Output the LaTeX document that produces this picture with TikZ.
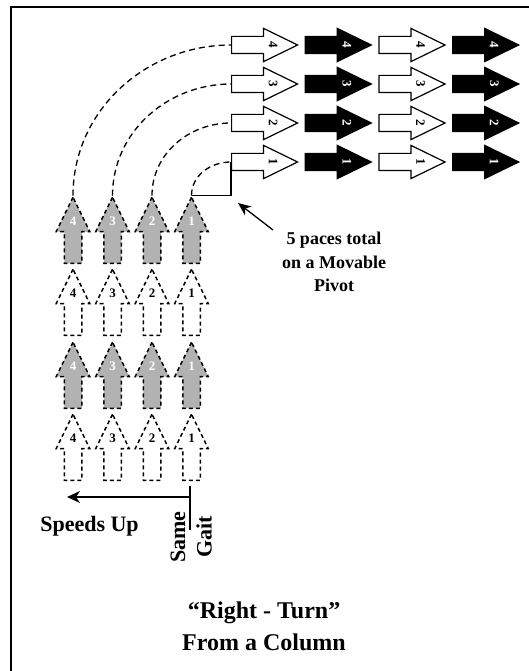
\documentclass[tikz,border=0pt]{standalone}
\usepackage{fontspec}
\setmainfont{Liberation Serif}
\usetikzlibrary{shapes.arrows,arrows.meta,calc}
\begin{document}
\begin{tikzpicture}[x=1pt,y=-1pt,
  arrbase/.style={single arrow, minimum height=66pt, minimum width=32pt,
    single arrow head extend=8pt, single arrow tip angle=52, inner sep=8pt,
    anchor=tail},
  warr/.style={arrbase, draw=black, fill=white, line width=1.2pt},
  barr/.style={arrbase, draw=black, fill=black, line width=1.2pt},
  garr/.style={arrbase, shape border rotate=90, draw=black, fill=black!30,
    line width=1.5pt, dash pattern=on 4pt off 3pt},
  darr/.style={arrbase, shape border rotate=90, draw=black, fill=white,
    line width=1.5pt, dash pattern=on 4pt off 3pt},
  numfont/.style={font=\bfseries\fontsize{13}{13}\selectfont, inner sep=0pt},
  rlabw/.style={numfont, rotate=-90, text=black},
  rlabb/.style={numfont, rotate=-90, text=white},
  ulabw/.style={numfont, text=white},
  ulabd/.style={numfont, text=black},
  arcline/.style={line width=1.3pt, dash pattern=on 6pt off 4pt},
  solidline/.style={line width=1.3pt},
  bigtext/.style={font=\bfseries\fontsize{22}{26}\selectfont, inner sep=0pt},
]
\useasboundingbox (0,0) rectangle (529,671);
\draw[line width=2pt] (11,675) -- (11,7) -- (535,7);

% right-pointing arrows
\foreach \r/\y in {1/162,2/123,3/84,4/45} {
  \node[warr] (w1r\r) at (231,\y) {};
  \node[barr] (b1r\r) at (304.7,\y) {};
  \node[warr] (w2r\r) at (378.4,\y) {};
  \node[barr] (b2r\r) at (452.1,\y) {};
  \node[rlabw] (lw1r\r) at ($(w1r\r.tail)!0.62!(w1r\r.tip)$) {\r};
  \node[rlabb] (lb1r\r) at ($(b1r\r.tail)!0.62!(b1r\r.tip)$) {\r};
  \node[rlabw] (lw2r\r) at ($(w2r\r.tail)!0.62!(w2r\r.tip)$) {\r};
  \node[rlabb] (lb2r\r) at ($(b2r\r.tail)!0.62!(b2r\r.tip)$) {\r};
}

% up-pointing arrows
\foreach \c/\x in {1/191.5,2/152,3/112.5,4/73} {
  \node[garr] (ga\c) at (\x,264) {};
  \node[darr] (da\c) at (\x,336) {};
  \node[garr] (gb\c) at (\x,409) {};
  \node[darr] (db\c) at (\x,481) {};
  \node[ulabw] (lga\c) at ($(ga\c.tail)!0.62!(ga\c.tip)$) {\c};
  \node[ulabd] (lda\c) at ($(da\c.tail)!0.62!(da\c.tip)$) {\c};
  \node[ulabw] (lgb\c) at ($(gb\c.tail)!0.62!(gb\c.tip)$) {\c};
  \node[ulabd] (ldb\c) at ($(db\c.tail)!0.62!(db\c.tip)$) {\c};
}

% turning paths
\foreach \i in {1,2,3,4} {
  \draw[arcline] (ga\i.tip) to[out=90,in=180] (w1r\i.tail);
}
\draw[solidline] (ga1.tip) -| (w1r1.tail);

% pivot note
\node[font=\bfseries\fontsize{18}{23.5}\selectfont, align=center, inner sep=0pt]
  (note) at (334,262) {5 paces total\\on a Movable\\Pivot};
\coordinate (ptrS) at (273,230);
\coordinate (ptrE) at (238,203);
\draw[solidline, -{Stealth[length=13pt,width=11pt,inset=4pt]}] (ptrS) -- (ptrE);

% speeds up / same gait
\coordinate (sgTop) at (190,486);
\coordinate (sgBot) at (190,530);
\coordinate (suTip) at (67,497);
\coordinate (suStart) at (190,497);
\draw[solidline] (sgTop) -- (sgBot);
\draw[solidline, -{Stealth[length=13pt,width=12pt,inset=4pt]}] (suStart) -- (suTip);
\node[bigtext] (speeds) at (89.5,526) {Speeds Up};
\node[bigtext, rotate=90] (same) at (178,537) {Same};
\node[bigtext, rotate=90] (gait) at (204,537) {Gait};

% title
\node[font=\bfseries\fontsize{24}{32}\selectfont, align=center, inner sep=0pt]
  (title) at (264,626) {``Right - Turn''\\From a Column};
\end{tikzpicture}
\end{document}
